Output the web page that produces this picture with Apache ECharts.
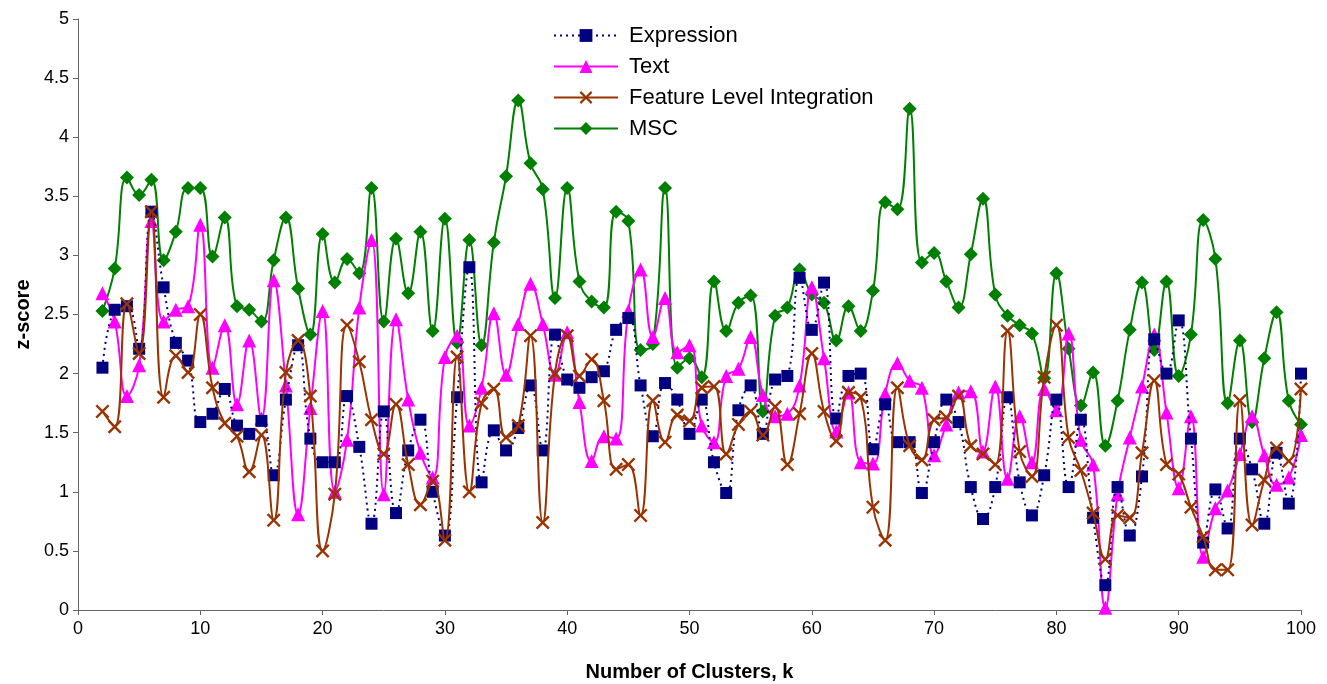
<!DOCTYPE html>
<html>
<head>
<meta charset="utf-8">
<script src="https://cdn.jsdelivr.net/npm/echarts@6/dist/echarts.min.js"></script>
<style>
html,body{margin:0;padding:0;background:#fff;}
#chart{width:1327px;height:684px;}
</style>
</head>
<body>
<div id="chart"></div>
<script>
// Number of clusters k (categories on the x axis)
const clusters = [2,3,4,5,6,7,8,9,10,11,12,13,14,15,16,17,18,19,20,21,22,23,24,25,26,27,28,29,30,31,32,33,34,35,36,37,38,39,40,41,42,43,44,45,46,47,48,49,50,51,52,53,54,55,56,57,58,59,60,61,62,63,64,65,66,67,68,69,70,71,72,73,74,75,76,77,78,79,80,81,82,83,84,85,86,87,88,89,90,91,92,93,94,95,96,97,98,99,100];

const expression = [2.05,2.54,2.57,2.21,3.37,2.73,2.26,2.11,1.59,1.66,
  1.87,1.56,1.49,1.60,1.14,1.78,2.24,1.45,1.25,1.25,
  1.81,1.38,0.73,1.68,0.82,1.35,1.61,1.00,0.63,1.80,
  2.90,1.08,1.52,1.35,1.54,1.90,1.35,2.33,1.95,1.88,
  1.97,2.02,2.37,2.47,1.90,1.47,1.92,1.78,1.49,1.78,
  1.25,0.99,1.69,1.90,1.49,1.95,1.98,2.81,2.37,2.77,
  1.62,1.98,2.00,1.36,1.74,1.42,1.42,0.99,1.42,1.78,
  1.59,1.04,0.77,1.04,1.80,1.08,0.80,1.14,1.78,1.04,
  1.61,0.78,0.21,1.04,0.63,1.13,2.29,2.00,2.45,1.45,
  0.57,1.02,0.69,1.45,1.19,0.73,1.33,0.90,2.00];

const text = [2.68,2.44,1.81,2.07,3.29,2.44,2.54,2.57,3.26,2.05,
  2.41,1.74,2.28,1.62,2.79,1.90,0.81,1.71,2.53,1.00,
  1.44,2.56,3.13,0.98,2.46,1.78,1.33,1.12,2.14,2.32,
  1.56,1.88,2.51,1.99,2.42,2.76,2.42,1.99,2.35,1.76,
  1.26,1.47,1.45,2.53,2.88,2.31,2.64,2.18,2.24,1.56,
  1.42,1.98,2.04,2.31,1.82,1.64,1.66,1.90,2.73,2.13,
  1.51,1.84,1.25,1.24,1.83,2.09,1.94,1.88,1.31,1.57,
  1.84,1.85,1.34,1.89,1.11,1.64,1.25,1.87,1.69,2.34,
  1.44,1.23,0.02,0.98,1.46,1.89,2.33,1.67,1.03,1.64,
  0.45,0.86,1.01,1.32,1.64,1.31,1.06,1.12,1.48];

const featureLevel = [1.68,1.55,2.59,2.17,3.37,1.80,2.15,2.01,2.50,1.88,
  1.58,1.47,1.17,1.48,0.76,2.01,2.28,1.81,0.50,0.98,
  2.41,2.10,1.61,1.32,1.74,1.23,0.89,1.09,0.59,2.14,
  1.00,1.75,1.87,1.46,1.56,2.32,0.74,2.00,2.32,1.98,
  2.12,1.77,1.19,1.23,0.80,1.77,1.42,1.65,1.60,1.88,
  1.89,1.32,1.57,1.68,1.48,1.72,1.23,1.66,2.17,1.68,
  1.43,1.84,1.80,0.87,0.59,1.88,1.39,1.27,1.61,1.63,
  1.81,1.39,1.32,1.23,2.36,1.34,1.13,1.97,2.41,1.46,
  1.18,0.82,0.43,0.80,0.78,1.33,1.94,1.23,1.15,0.87,
  0.62,0.34,0.34,1.77,0.72,1.10,1.37,1.26,1.87];

const msc = [2.53,2.89,3.66,3.51,3.64,2.96,3.20,3.57,3.57,2.99,
  3.32,2.57,2.54,2.44,2.96,3.32,2.72,2.33,3.18,2.77,
  2.97,2.85,3.57,2.44,3.14,2.68,3.20,2.36,3.31,2.26,
  3.13,2.24,3.11,3.67,4.31,3.78,3.56,2.64,3.57,2.78,
  2.61,2.56,3.37,3.29,2.20,2.25,3.57,2.05,2.13,1.97,
  2.78,2.36,2.60,2.66,1.68,2.49,2.56,2.88,2.67,2.60,
  2.28,2.57,2.36,2.70,3.45,3.39,4.24,2.94,3.02,2.78,
  2.56,3.01,3.48,2.67,2.49,2.41,2.34,1.96,2.85,2.21,
  1.73,2.01,1.39,1.77,2.37,2.77,2.20,2.78,1.98,2.33,
  3.30,2.97,1.75,2.28,1.59,2.13,2.52,1.77,1.57];

const seriesNames = ['Expression', 'Text', 'Feature Level Integration', 'MSC'];
const yTickLabels = ['0','0.5','1','1.5','2','2.5','3','3.5','4','4.5','5'];
const xTickLabels = ['0','10','20','30','40','50','60','70','80','90','100'];

function pairs(vals) { return clusters.map((k, i) => [k, vals[i]]); }

const crossPath = 'path://M0,1.2 L1.2,0 L5,3.8 L8.8,0 L10,1.2 L6.2,5 L10,8.8 L8.8,10 L5,6.2 L1.2,10 L0,8.8 L3.8,5 Z';

const chart = echarts.init(document.getElementById('chart'), null, {renderer: 'canvas'});
const font = '"Liberation Sans", Arial, sans-serif';

chart.setOption({
  animation: false,
  backgroundColor: '#ffffff',
  grid: {left: 78, right: 26, top: 19, bottom: 74, containLabel: false, outerBoundsMode: 'none'},
  legend: {
    orient: 'vertical',
    left: 548,
    top: 19,
    itemWidth: 64,
    itemHeight: 16,
    itemGap: 8,
    data: seriesNames,
    textStyle: {fontFamily: font, fontSize: 22, color: '#000', lineHeight: 23, padding: [0,0,0,6]}
  },
  xAxis: {
    type: 'value',
    min: 0, max: 100, interval: 10,
    name: 'Number of Clusters, k',
    nameLocation: 'middle',
    nameGap: 52,
    nameTextStyle: {fontFamily: font, fontSize: 20, fontWeight: 'bold', color: '#000'},
    axisLine: {show: true, onZero: false, lineStyle: {color: '#666', width: 1}},
    axisTick: {show: true, inside: false, length: 5, lineStyle: {color: '#666'}},
    axisLabel: {fontFamily: font, fontSize: 18, color: '#000', margin: 10,
      formatter: v => xTickLabels[Math.round(v / 10)]},
    splitLine: {show: false}
  },
  yAxis: {
    type: 'value',
    min: 0, max: 5, interval: 0.5,
    name: 'z-score',
    nameLocation: 'middle',
    nameGap: 36,
    nameRotate: 90,
    nameTextStyle: {fontFamily: font, fontSize: 20, fontWeight: 'bold', color: '#000'},
    axisLine: {show: true, lineStyle: {color: '#666', width: 1}},
    axisTick: {show: true, inside: false, length: 5, lineStyle: {color: '#666'}},
    axisLabel: {fontFamily: font, fontSize: 18, color: '#000', margin: 9,
      formatter: v => yTickLabels[Math.round(v * 2)]},
    splitLine: {show: false}
  },
  series: [
    {
      name: seriesNames[0], type: 'line', data: pairs(expression),
      smooth: 0.45, symbol: 'rect', symbolSize: 12,
      lineStyle: {color: '#000080', width: 2, type: [2, 4]},
      itemStyle: {color: '#000080'}, z: 4
    },
    {
      name: seriesNames[1], type: 'line', data: pairs(text),
      smooth: 0.45, symbol: 'triangle', symbolSize: 14,
      lineStyle: {color: '#ff00ff', width: 2},
      itemStyle: {color: '#ff00ff'}, z: 3
    },
    {
      name: seriesNames[2], type: 'line', data: pairs(featureLevel),
      smooth: 0.45, symbol: crossPath, symbolSize: 14,
      lineStyle: {color: '#993300', width: 2},
      itemStyle: {color: '#993300'}, z: 5
    },
    {
      name: seriesNames[3], type: 'line', data: pairs(msc),
      smooth: 0.45, symbol: 'diamond', symbolSize: 14,
      lineStyle: {color: '#008000', width: 2},
      itemStyle: {color: '#008000'}, z: 2
    }
  ]
});
</script>
</body>
</html>
